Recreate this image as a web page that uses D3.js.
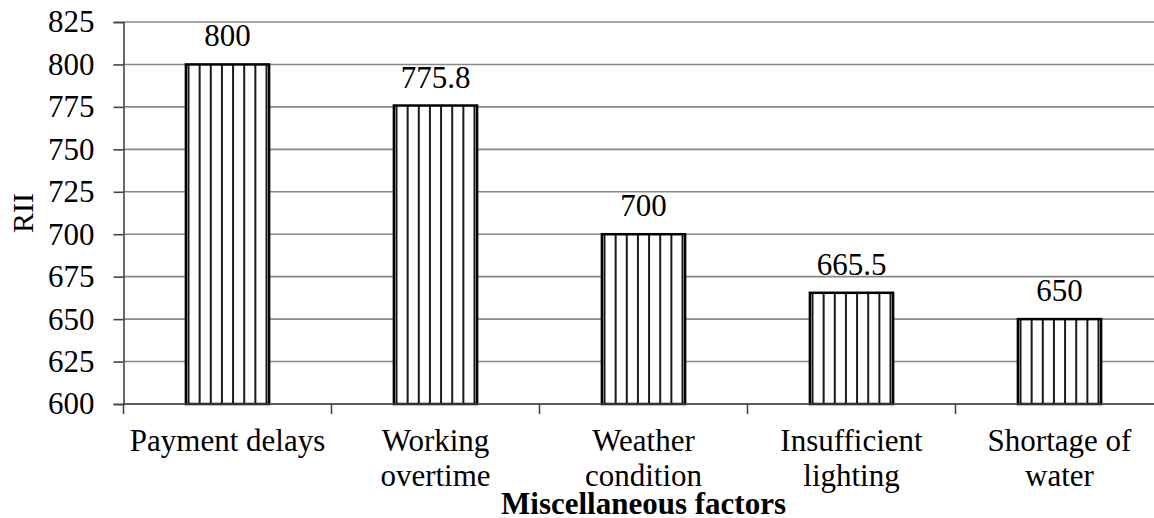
<!DOCTYPE html>
<html>
<head>
<meta charset="utf-8">
<script src="https://cdn.jsdelivr.net/npm/d3@7"></script>
<style>
  body { margin: 0; background: #fff; }
  svg text { font-family: "Liberation Serif", "Tinos", "DejaVu Serif", serif !important; fill: #000; }
</style>
</head>
<body>
<svg id="chart"></svg>
<script>
'use strict';
var categories = [["Payment delays"], ["Working", "overtime"], ["Weather", "condition"], ["Insufficient", "lighting"], ["Shortage of", "water"]];
var values = [800, 775.8, 700, 665.5, 650];
var valueLabels = ["800", "775.8", "700", "665.5", "650"];
var yTicks = [600, 625, 650, 675, 700, 725, 750, 775, 800, 825];

var width = 1154, height = 518;
var margin = { top: 22, left: 123.5, bottom: 114, plotWidth: 1040 };
var plotBottom = height - margin.bottom;

var svg = d3.select("#chart").attr("width", width).attr("height", height);

var x = d3.scaleBand()
  .domain(d3.range(categories.length))
  .range([margin.left, margin.left + margin.plotWidth])
  .paddingInner(0.6)
  .paddingOuter(0.3);

var y = d3.scaleLinear().domain([600, 825]).range([plotBottom, margin.top]);

// gridlines
svg.append("g").selectAll("line")
  .data(yTicks)
  .enter().append("line")
  .attr("x1", margin.left).attr("x2", margin.left + margin.plotWidth)
  .attr("y1", function(d) { return y(d); })
  .attr("y2", function(d) { return y(d); })
  .attr("stroke", "#888").attr("stroke-width", 1.6);

// y axis
var yAxis = svg.append("g")
  .attr("transform", "translate(" + margin.left + ",0)")
  .call(d3.axisLeft(y).tickValues(yTicks).tickSize(10).tickPadding(19).tickFormat(d3.format("d")));
yAxis.attr("font-family", null).attr("font-size", null);
yAxis.select(".domain").attr("stroke", "#444").attr("stroke-width", 1.6);
yAxis.selectAll(".tick line").attr("stroke", "#444").attr("stroke-width", 1.6);
yAxis.selectAll(".tick text").style("font-size", "31px").attr("fill", "#000");

// bars
var bars = svg.append("g").selectAll("g.bar")
  .data(values)
  .enter().append("g").attr("class", "bar");

bars.append("rect")
  .attr("x", function(d, i) { return x(i); })
  .attr("y", function(d) { return y(d); })
  .attr("width", x.bandwidth())
  .attr("height", function(d) { return plotBottom - y(d); })
  .attr("fill", "#fff");

var nStripes = 8;
bars.each(function(d, i) {
  var g = d3.select(this);
  var x0 = x(i), bw = x.bandwidth();
  var step = (bw - 5.2) / (nStripes - 1);
  g.selectAll("line.stripe")
    .data(d3.range(nStripes))
    .enter().append("line")
    .attr("class", "stripe")
    .attr("x1", function(k) { return x0 + 2.6 + k * step; })
    .attr("x2", function(k) { return x0 + 2.6 + k * step; })
    .attr("y1", y(d))
    .attr("y2", plotBottom)
    .attr("stroke", "#1a1a1a").attr("stroke-width", 2);
});

bars.append("rect")
  .attr("x", function(d, i) { return x(i); })
  .attr("y", function(d) { return y(d); })
  .attr("width", x.bandwidth())
  .attr("height", function(d) { return plotBottom - y(d); })
  .attr("fill", "none")
  .attr("stroke", "#000").attr("stroke-width", 2.5);

bars.append("text")
  .attr("x", function(d, i) { return x(i) + x.bandwidth() / 2; })
  .attr("y", function(d) { return y(d) - 18; })
  .attr("text-anchor", "middle")
  .style("font-size", "31px")
  .text(function(d, i) { return valueLabels[i]; });

// x axis
var step = x.step();
var xAxisG = svg.append("g");
xAxisG.append("line")
  .attr("x1", margin.left).attr("x2", margin.left + margin.plotWidth)
  .attr("y1", plotBottom).attr("y2", plotBottom)
  .attr("stroke", "#444").attr("stroke-width", 1.6);
xAxisG.selectAll("line.tick")
  .data(d3.range(categories.length + 1))
  .enter().append("line")
  .attr("class", "tick")
  .attr("x1", function(k) { return margin.left + k * step; })
  .attr("x2", function(k) { return margin.left + k * step; })
  .attr("y1", plotBottom).attr("y2", plotBottom + 10)
  .attr("stroke", "#444").attr("stroke-width", 1.6);

xAxisG.selectAll("text.cat")
  .data(categories)
  .enter().append("text")
  .attr("class", "cat")
  .attr("text-anchor", "middle")
  .style("font-size", "31px")
  .each(function(lines, i) {
    var t = d3.select(this);
    lines.forEach(function(line, j) {
      t.append("tspan")
        .attr("x", x(i) + x.bandwidth() / 2)
        .attr("y", 451 + j * 35)
        .text(line);
    });
  });

// axis titles
svg.append("text")
  .attr("x", margin.left + margin.plotWidth / 2)
  .attr("y", 514)
  .attr("text-anchor", "middle")
  .style("font-size", "31px")
  .style("font-weight", "bold")
  .text("Miscellaneous factors");

svg.append("text")
  .attr("transform", "translate(33," + ((margin.top + plotBottom) / 2) + ") rotate(-90)")
  .attr("text-anchor", "middle")
  .style("font-size", "30px")
  .text("RII");
</script>
</body>
</html>
